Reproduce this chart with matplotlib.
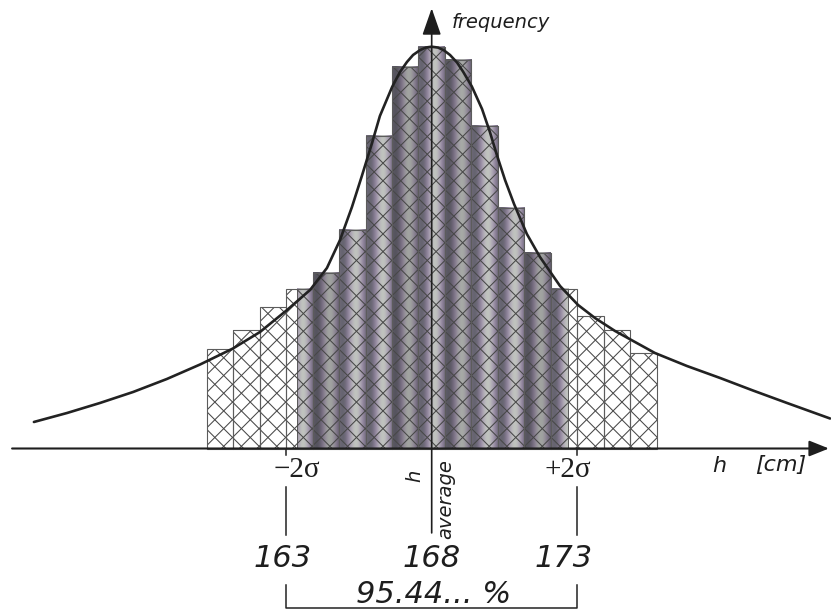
import numpy as np
import matplotlib
matplotlib.use("Agg")
import matplotlib.pyplot as plt
from matplotlib.patches import Rectangle, FancyArrowPatch
from matplotlib.path import Path
from matplotlib.collections import LineCollection
from matplotlib.transforms import IdentityTransform

# ---------------- data ----------------
mean_cm = 168.0
sigma_cm = 2.5
bin_width_cm = 10.0 / 11.0          # 11 bins inside +-2 sigma
bar_freq = [25.0, 29.6, 35.3, 39.8, 43.8, 54.6, 78.1, 95.5, 100.3, 97.1,
            80.7, 60.2, 49.0, 39.8, 33.2, 29.6, 23.8]

curve_x = [154.33, 155.47, 156.60, 157.74, 158.90, 160.04, 161.17, 162.10,
           163.03, 163.82, 164.40, 164.85, 165.26, 165.60, 165.95, 166.22,
           166.64, 166.91, 167.15, 167.36, 167.60, 167.80, 168.00,
           168.22, 168.42, 168.63, 168.87, 169.08, 169.38, 169.73, 170.00,
           170.24, 170.52, 170.83, 171.27, 171.72, 172.41, 173.03, 173.61,
           174.30, 175.67, 176.77, 177.91, 179.04, 180.21, 181.69]
curve_y = [6.63, 8.88, 11.38, 14.13, 17.38, 21.0, 25.0, 29.13,
           34.63, 39.63, 45.13, 52.13, 60.38, 68.13, 76.38, 83.13,
           90.38, 94.13, 96.63, 98.38, 99.6, 100.25, 100.45,
           100.23, 99.55, 98.38, 96.5, 94.2, 90.5, 84.88, 79.13,
           73.38, 67.13, 61.13, 53.63, 47.88, 40.63, 35.88, 32.63,
           29.38, 23.88, 20.63, 17.63, 14.5, 11.38, 7.5]

value_labels = ["163", "168", "173"]
sigma_labels = ["\u22122\u03c3", "+2\u03c3"]
percent_label = "95.44... %"
axis_x_label = ["h", "[cm]"]
axis_y_label = "frequency"
mean_label = ["h", "average"]

# ---------------- figure ----------------
fig = plt.figure(figsize=(8.31, 6.12), dpi=100)
ax = fig.add_axes([0, 0, 1, 1])
ax.axis("off")
ax.set_xlim(153.165, 181.722)
ax.set_ylim(-40.875, 112.125)

n = len(bar_freq)
centres = mean_cm + (np.arange(n) - (n - 1) / 2) * bin_width_cm
lefts = centres - bin_width_cm / 2
rights = centres + bin_width_cm / 2

# shaded (gradient) columns inside the central region
shade_lo, shade_hi = 163.36, 172.69
t = np.linspace(0, 1, 80)
prof = 0.5 + 0.5 * np.cos(2 * np.pi * (t - 0.62))
dark = np.array([102, 100, 112]) / 255
light = np.array([192, 195, 191]) / 255
tint = np.array([0.02, -0.025, 0.045])
base_grad = dark[None, :] + (light - dark)[None, :] * prof[:, None] \
    + tint[None, :] * np.sin(np.pi * prof)[:, None]
darker = {4: 0.84, 7: 0.84, 9: 0.87, 12: 0.84}
for i in range(n):
    x0 = max(lefts[i], shade_lo)
    x1 = min(rights[i], shade_hi)
    if x1 <= x0:
        continue
    k = darker.get(i, 1.0)
    f0 = (x0 - lefts[i]) / bin_width_cm
    f1 = (x1 - lefts[i]) / bin_width_cm
    idx = np.clip((np.linspace(f0, f1, 60) * 79).astype(int), 0, 79)
    grad = np.clip(base_grad[idx] * k, 0, 1)
    ax.imshow(grad[None, :, :], extent=(x0, x1, 0, bar_freq[i]),
              aspect="auto", interpolation="bilinear", zorder=1)
    ax.add_patch(Rectangle((x0, 0), x1 - x0, bar_freq[i], fill=False,
                           edgecolor="#5a5a5a", linewidth=0.7, zorder=1.5))

# cross-hatching clipped to the histogram bars
verts, codes = [], []
for l, r, h in zip(lefts, rights, bar_freq):
    verts += [(l, 0), (r, 0), (r, h), (l, h), (l, 0)]
    codes += [Path.MOVETO, Path.LINETO, Path.LINETO, Path.LINETO, Path.CLOSEPOLY]
bars_path = Path(verts, codes)
period = 17.7
segs = []
for c in np.arange(-650, 900, period):
    segs.append([(c, 0), (c + 650, 650)])
    segs.append([(c, 650), (c + 650, 0)])
hatch = LineCollection(segs, colors="#474747", linewidths=0.75,
                       transform=IdentityTransform(), zorder=2)
ax.add_collection(hatch, autolim=False)
hatch.set_clip_path(bars_path, ax.transData)

# histogram bar outlines
ax.bar(centres, bar_freq, width=bin_width_cm, fill=False,
       edgecolor="#5c5c5c", linewidth=0.8, zorder=2.5)

# fitted curve
ax.plot(curve_x, curve_y, color="#222222", linewidth=1.9,
        solid_capstyle="round", solid_joinstyle="round", zorder=4)

# axes arrows
ax.add_patch(FancyArrowPatch((153.58, 0), (181.65, 0),
                             arrowstyle="-|>,head_length=0.6,head_width=0.24",
                             mutation_scale=20, linewidth=1.5,
                             color="#1e1e1e", shrinkA=0, shrinkB=0, zorder=5))
ax.add_patch(FancyArrowPatch((mean_cm, -21.1), (mean_cm, 110.05),
                             arrowstyle="-|>,head_length=0.83,head_width=0.29",
                             mutation_scale=20, linewidth=1.2,
                             color="#1e1e1e", shrinkA=0, shrinkB=0, zorder=6))

# +-2 sigma markers
lo2 = mean_cm - 2 * sigma_cm
hi2 = mean_cm + 2 * sigma_cm
for xv in (lo2, hi2):
    ax.plot([xv, xv], [0, -1.6], color="#222222", linewidth=1.1, zorder=5)
    ax.plot([xv, xv], [-9.5, -21.6], color="#222222", linewidth=1.1, zorder=5)
ax.plot([lo2, lo2, hi2, hi2], [-34.1, -39.9, -39.9, -34.1],
        color="#222222", linewidth=1.1, zorder=5)

tc = "#1e1e1e"
ax.text(163.37, -5.4, sigma_labels[0], fontsize=21, family="Liberation Serif",
        ha="center", va="center", color=tc)
ax.text(172.68, -5.4, sigma_labels[1], fontsize=21, family="Liberation Serif",
        ha="center", va="center", color=tc)

it = dict(family="DejaVu Sans", style="italic", color=tc)
ax.text(168.69, 106.45, axis_y_label, fontsize=14, ha="left", va="center", **it)
ax.text(177.87, -4.5, axis_x_label[0], fontsize=16, ha="center", va="center", **it)
ax.text(179.99, -4.2, axis_x_label[1], fontsize=16, ha="center", va="center", **it)
ax.text(167.43, -6.75, mean_label[0], fontsize=14, rotation=90,
        ha="center", va="center", **it)
ax.text(168.47, -12.6, mean_label[1], fontsize=14, rotation=90,
        ha="center", va="center", **it)

for xv, lab in zip([162.89, mean_cm, 172.54], value_labels):
    ax.text(xv, -27.5, lab, fontsize=22, ha="center", va="center", **it)
ax.text(168.05, -36.6, percent_label, fontsize=22, ha="center", va="center", **it)

ax.set_xlim(153.165, 181.722)
ax.set_ylim(-40.875, 112.125)

fig.savefig("out.png", dpi=100)
